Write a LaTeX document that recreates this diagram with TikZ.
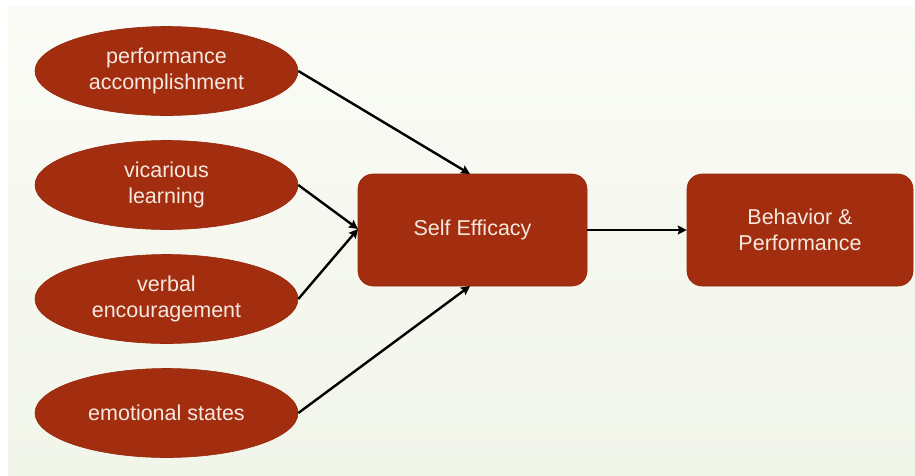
\documentclass[tikz,border=0pt]{standalone}
\usepackage{fontspec}
\setmainfont{Liberation Sans}
\usetikzlibrary{arrows.meta,shapes.geometric}
\definecolor{rust}{RGB}{163,46,15}
\definecolor{rustedge}{RGB}{150,40,12}
\definecolor{paletext}{RGB}{246,232,224}
\definecolor{bgtop}{RGB}{250,251,246}
\definecolor{bgbot}{RGB}{242,245,234}
\tikzset{
  oval/.style={ellipse, fill=rust, draw=rustedge, line width=0.6pt,
    minimum width=263pt, minimum height=89pt, inner sep=0pt,
    text=paletext, font=\fontsize{21.5}{26.5}\selectfont, align=center},
  rbox/.style={rectangle, rounded corners=15pt, fill=rust, draw=rustedge, line width=0.6pt,
    minimum width=229pt, minimum height=112pt, inner sep=0pt,
    text=paletext, font=\fontsize{21.5}{26.5}\selectfont, align=center},
  conn/.style={line width=2.4pt, -{Stealth[length=9pt,width=9pt,inset=1.5pt]}}
}
\begin{document}
\begin{tikzpicture}[x=1pt,y=-1pt]
\useasboundingbox (0,0) rectangle (915,475);
\fill[white] (0,0) rectangle (915,475);
\shade[top color=bgtop, bottom color=bgbot] (8,7) rectangle (915,475);
\node[oval] (pa) at (166.5,71) {performance\\accomplishment};
\node[oval] (vl) at (166.5,185) {vicarious\\learning};
\node[oval] (ve) at (166.5,299) {verbal\\encouragement};
\node[oval] (es) at (166.5,413) {emotional states};
\node[rbox] (se) at (472.5,230) {Self Efficacy};
\node[rbox, minimum width=226pt] (bp) at (800,230) {Behavior \&\\Performance};
\coordinate (seT) at (470,174);
\coordinate (seB) at (470,286);
\coordinate (seL) at (358,229);
\draw[conn] (pa.east) -- (seT);
\draw[conn] (vl.east) -- (seL);
\draw[conn] (ve.east) -- (seL);
\draw[conn] (es.east) -- (seB);
\draw[conn] (se.east) -- (bp.west);
\end{tikzpicture}
\end{document}
